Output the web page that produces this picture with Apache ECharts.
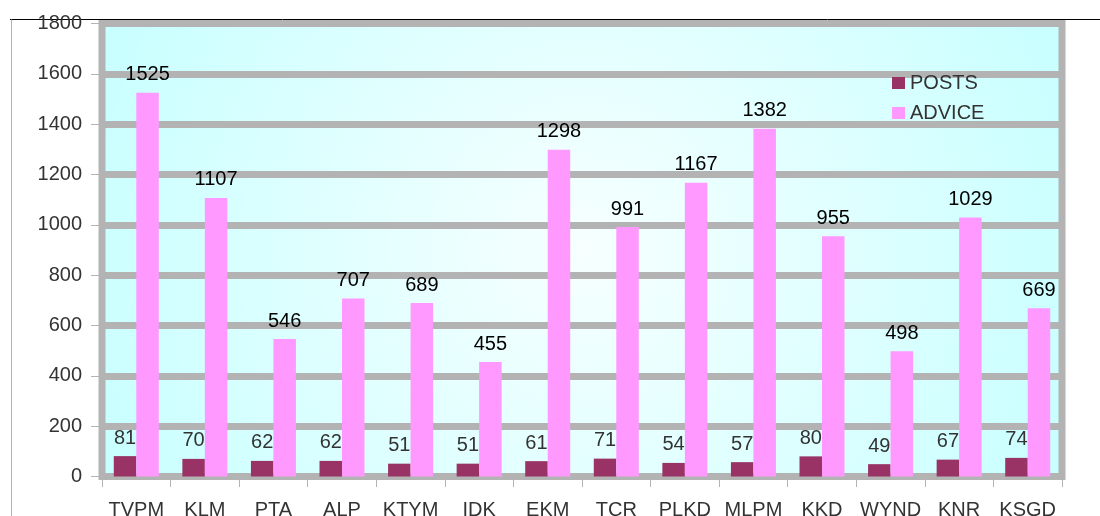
<!DOCTYPE html>
<html>
<head>
<meta charset="utf-8">
<script src="https://cdn.jsdelivr.net/npm/echarts@6/dist/echarts.min.js"></script>
<style>
html,body{margin:0;padding:0;background:#fff;}
#chart{width:1100px;height:516px;}
</style>
</head>
<body>
<div id="chart"></div>
<script>
var categories = ['TVPM','KLM','PTA','ALP','KTYM','IDK','EKM','TCR','PLKD','MLPM','KKD','WYND','KNR','KSGD'];
var posts = [81,70,62,62,51,51,61,71,54,57,80,49,67,74];
var advice = [1525,1107,546,707,689,455,1298,991,1167,1382,955,498,1029,669];
var yTicks = [0,200,400,600,800,1000,1200,1400,1600,1800];

var FONT = '"Liberation Sans", Arial, sans-serif';
var GRAY = '#b3b3b3';
var chart = echarts.init(document.getElementById('chart'), null, {renderer:'canvas'});
chart.setOption({
  animation:false,
  textStyle:{fontFamily:FONT},
  graphic:[
    {type:'line', shape:{x1:10,y1:19.5,x2:1100,y2:19.5}, style:{stroke:'#000',lineWidth:1}, z:-1},
    {type:'line', shape:{x1:11.5,y1:19.5,x2:11.5,y2:516}, style:{stroke:GRAY,lineWidth:1}, z:-1}
  ],
  legend:{
    orient:'vertical', left:887, top:68,
    itemWidth:13, itemHeight:12, itemGap:10,
    icon:'rect',
    textStyle:{fontSize:20, color:'#333', fontFamily:FONT, lineHeight:20},
    data:['POSTS','ADVICE']
  },
  grid:{
    left:102, right:38, top:23.5, bottom:39.5,
    containLabel:false, outerBoundsMode:'none',
    show:true, borderWidth:7, borderColor:GRAY,
    backgroundColor:{type:'radial', x:0.5, y:0.5, r:1.19,
      colorStops:[{offset:0,color:'#f7ffff'},{offset:1,color:'#c6ffff'}]}
  },
  xAxis:{
    type:'category', data:categories,
    axisLine:{show:true, lineStyle:{color:GRAY,width:1}},
    axisTick:{show:true, length:10.5, lineStyle:{color:GRAY,width:1}},
    axisLabel:{fontSize:20, color:'#333', margin:24, interval:0, fontFamily:FONT}
  },
  yAxis:{
    type:'value', min:yTicks[0], max:yTicks[yTicks.length-1], interval:200,
    axisLine:{show:true, lineStyle:{color:GRAY,width:1}},
    axisTick:{show:true, length:11, lineStyle:{color:GRAY,width:1}},
    axisLabel:{fontSize:20, color:'#333', margin:20, fontFamily:FONT,
      formatter:function(v){return String(v);}},
    splitLine:{show:true, lineStyle:{color:GRAY,width:7}}
  },
  series:[
    {name:'POSTS', type:'bar', data:posts, barWidth:22.5, barGap:'0%',
     itemStyle:{color:'#993366'},
     label:{show:true, position:'top', distance:8, fontSize:20, color:'#333', fontFamily:FONT}},
    {name:'ADVICE', type:'bar', data:advice, barWidth:22.5, barGap:'0%',
     itemStyle:{color:'#ff99ff'},
     label:{show:true, position:'top', distance:8, fontSize:20, color:'#000', fontFamily:FONT}}
  ]
});
</script>
</body>
</html>
